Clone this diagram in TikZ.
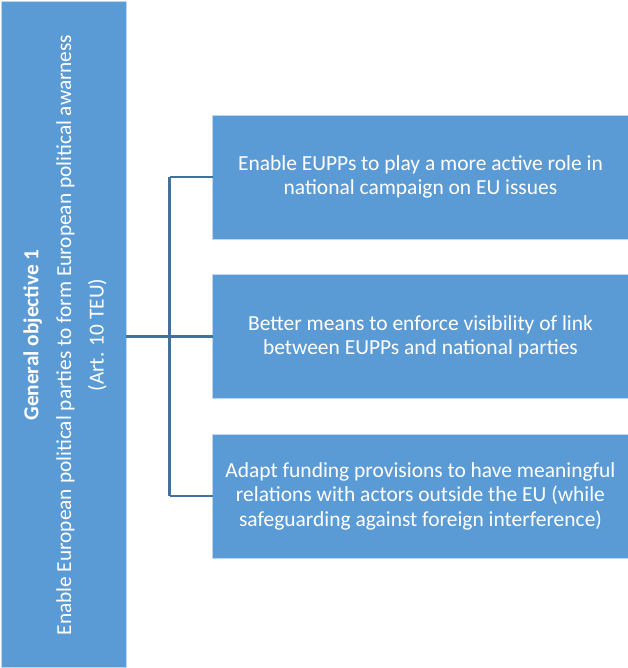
\documentclass[tikz,border=0pt]{standalone}
\usepackage{fontspec}
\setmainfont{Carlito}
\definecolor{boxblue}{RGB}{91,155,213}
\definecolor{edgeblue}{RGB}{190,215,238}
\definecolor{linkblue}{RGB}{65,113,156}
\begin{document}
\begin{tikzpicture}[x=0.75pt,y=-0.75pt,
  bluebox/.style={fill=boxblue,draw=edgeblue,line width=0.75pt,inner sep=0pt,outer sep=0pt},
  goaltext/.style={text=white,align=center,font=\fontsize{16.1}{18.3}\selectfont},
  link/.style={draw=linkblue,line width=1.9pt}]
\useasboundingbox (0,0) rectangle (628,668);
\node[bluebox,minimum width=125*0.75pt,minimum height=666*0.75pt,anchor=north west] (gen) at (1,1) {};
\node[text=white,align=center,rotate=90,font=\fontsize{16}{24.5}\selectfont] (gentext) at (65,335)
  {\textbf{General objective 1}\\Enable European political parties to form European political awarness\\(Art. 10 TEU)};
\node[bluebox,goaltext,minimum width=416*0.75pt,minimum height=124*0.75pt,anchor=north west] (o1) at (212.5,115)
  {Enable EUPPs to play a more active role in\\national campaign on EU issues};
\node[bluebox,goaltext,minimum width=416*0.75pt,minimum height=124*0.75pt,anchor=north west] (o2) at (212.5,274.5)
  {Better means to enforce visibility of link\\between EUPPs and national parties};
\node[bluebox,goaltext,minimum width=416*0.75pt,minimum height=124*0.75pt,anchor=north west] (o3) at (212.5,434)
  {Adapt funding provisions to have meaningful\\relations with actors outside the EU (while\\safeguarding against foreign interference)};
\coordinate (j) at (169.5,336);
\draw[link] (j |- o1.west) -- (j |- o3.west);
\draw[link] (j |- o1.west) -- (o1.west);
\draw[link] (j |- o3.west) -- (o3.west);
\draw[link] (gen.east |- o2.west) -- (o2.west);
\end{tikzpicture}
\end{document}
